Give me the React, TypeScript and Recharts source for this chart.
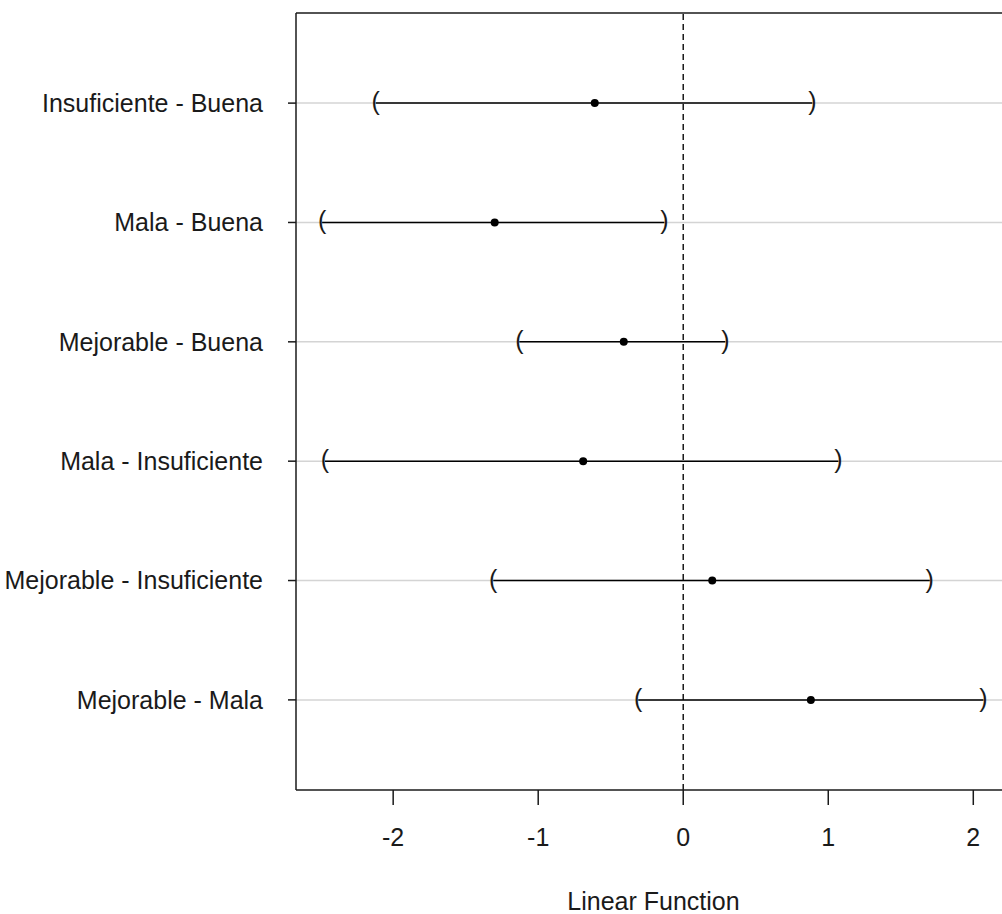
import React from 'react';
import {
  ComposedChart,
  Scatter,
  XAxis,
  YAxis,
  CartesianGrid,
  ReferenceLine,
} from 'recharts';

// pairwise comparisons, top to bottom
const LABELS = [
  'Insuficiente - Buena',
  'Mala - Buena',
  'Mejorable - Buena',
  'Mala - Insuficiente',
  'Mejorable - Insuficiente',
  'Mejorable - Mala',
];
const LOWER = [-2.12, -2.49, -1.13, -2.47, -1.31, -0.31];
const ESTIMATE = [-0.61, -1.3, -0.41, -0.69, 0.2, 0.88];
const UPPER = [0.89, -0.13, 0.29, 1.07, 1.7, 2.07];
const X_TICKS = [-2, -1, 0, 1, 2];
const ROWS = LABELS.map((_, i) => i + 1);

const X_DOMAIN: [number, number] = [-2.67, 2.26];
const Y_DOMAIN: [number, number] = [0.245, 6.755];

const FONT = '"Liberation Sans", Arial, sans-serif';

const Paren = (props: any) => {
  const { cx, cy, payload } = props;
  if (cx == null || cy == null) return null;
  return (
    <text
      x={cx}
      y={cy + 7}
      textAnchor="middle"
      fontSize={25}
      fontFamily={FONT}
      fill="#1a1a1a"
    >
      {payload.side === 'lo' ? '(' : ')'}
    </text>
  );
};

const Dot = (props: any) => {
  const { cx, cy } = props;
  if (cx == null || cy == null) return null;
  return <circle cx={cx} cy={cy} r={4} fill="#000" />;
};

export default function App() {
  const estimates = ESTIMATE.map((x, i) => ({ x, y: i + 1 }));

  return (
    <div
      style={{
        position: 'absolute',
        left: 0,
        top: 0,
        width: 1002,
        height: 914,
        overflow: 'hidden',
        background: '#fff',
      }}
    >
      <ComposedChart
        width={1020}
        height={914}
        margin={{ top: 13, right: 9, bottom: 0, left: 0 }}
        style={{ fontFamily: FONT }}
      >
        <CartesianGrid
          horizontal
          vertical={false}
          horizontalValues={ROWS}
          stroke="#d4d4d4"
          strokeWidth={1.5}
        />
        <XAxis
          type="number"
          dataKey="x"
          domain={X_DOMAIN}
          ticks={X_TICKS}
          allowDataOverflow
          height={124}
          stroke="#1a1a1a"
          strokeWidth={1.5}
          tickSize={15}
          tickMargin={23}
          tick={{ fontSize: 25, fill: '#1a1a1a' }}
          label={{
            value: 'Linear Function',
            position: 'insideBottom',
            offset: 4,
            fontSize: 25,
            fill: '#1a1a1a',
          }}
        />
        <YAxis
          type="number"
          dataKey="y"
          domain={Y_DOMAIN}
          ticks={ROWS}
          reversed
          allowDataOverflow
          width={296}
          stroke="#1a1a1a"
          strokeWidth={1.5}
          tickSize={8}
          tickMargin={25}
          tickFormatter={(v: number) => LABELS[v - 1] ?? ''}
          tick={{ fontSize: 25, fill: '#1a1a1a' }}
          interval={0}
        />
        <ReferenceLine y={Y_DOMAIN[0]} stroke="#1a1a1a" strokeWidth={1.5} />
        <ReferenceLine x={0} stroke="#1a1a1a" strokeWidth={1.5} strokeDasharray="6 4" />
        {LABELS.map((_, i) => (
          <Scatter
            key={i}
            data={[
              { x: LOWER[i], y: i + 1, side: 'lo' },
              { x: UPPER[i], y: i + 1, side: 'hi' },
            ]}
            line={{ stroke: '#000', strokeWidth: 1.5 }}
            lineType="joint"
            shape={<Paren />}
            isAnimationActive={false}
          />
        ))}
        <Scatter data={estimates} shape={<Dot />} isAnimationActive={false} />
      </ComposedChart>
    </div>
  );
}
